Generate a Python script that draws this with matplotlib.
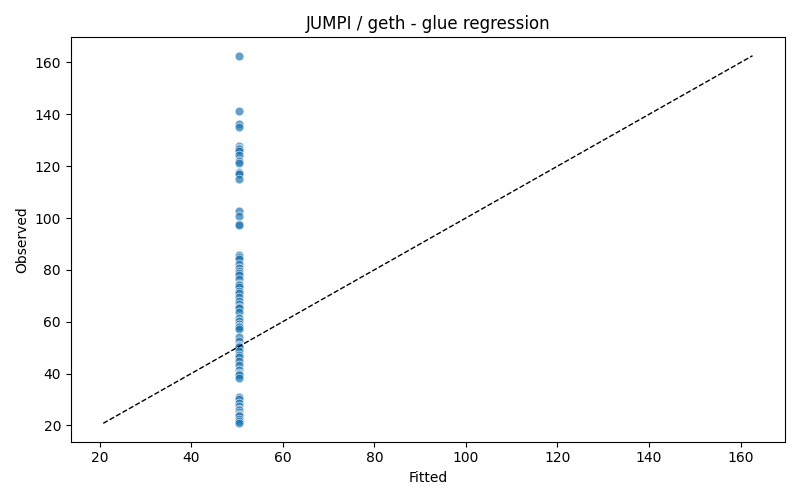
import matplotlib
matplotlib.use('Agg')
import matplotlib.pyplot as plt
import numpy as np

observed = [
    162.6, 141.4, 136.3, 135.1, 127.6, 127.0, 126.6, 126.0, 124.4, 122.0,
    121.2, 117.6, 117.3, 116.9, 115.2, 102.8, 100.9, 97.6, 97.4,
    85.6, 84.8, 84.2, 82.3, 80.8, 79.4, 78.6, 78.2, 76.3, 74.6, 74.0,
    73.4, 72.0, 70.9, 69.5, 68.1, 66.7, 65.6, 65.4, 63.6, 61.5, 60.4,
    59.0, 58.4, 57.8, 57.0,
    54.0, 52.6, 51.2, 50.6, 50.1, 48.6, 47.3, 46.2, 44.7, 43.2, 41.3,
    40.2, 40.0, 39.6, 38.4,
    31.0, 30.1, 28.7, 27.4, 26.2, 25.9, 25.3, 24.5, 24.0, 23.6, 22.4,
    21.6, 20.8,
]
fitted_value = 50.35

observed = np.array(observed)
fitted = np.full(len(observed), fitted_value)

fig, ax = plt.subplots(figsize=(8, 5), dpi=100)
ax.scatter(fitted, observed, s=40, color='#1f77b4', alpha=0.7,
           edgecolors='white', linewidths=0.6, zorder=2)

lo = min(observed.min(), fitted.min())
hi = max(observed.max(), fitted.max())
ax.plot([lo, hi], [lo, hi], 'k--', lw=1, zorder=3)

ax.set_title('JUMPI / geth - glue regression')
ax.set_xlabel('Fitted')
ax.set_ylabel('Observed')
plt.tight_layout()
plt.savefig('out.png')
plt.close()
